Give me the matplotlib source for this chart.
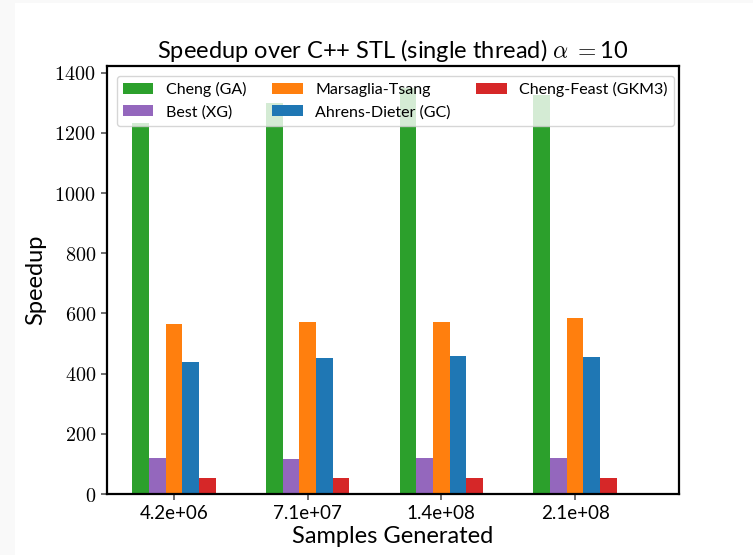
import numpy as np
import matplotlib
matplotlib.use("Agg")
import matplotlib.pyplot as plt
from matplotlib.patches import Rectangle
from matplotlib.ticker import FuncFormatter

# Speedup of each gamma sampler over the C++ STL, single thread, alpha = 10
sample_counts = ["4.2e+06", "7.1e+07", "1.4e+08", "2.1e+08"]
series_names = ["Cheng (GA)", "Best (XG)", "Marsaglia-Tsang",
                "Ahrens-Dieter (GC)", "Cheng-Feast (GKM3)"]
cheng_ga = [1231, 1298, 1348, 1324]
best_xg = [120, 117, 120, 120]
marsaglia_tsang = [566, 572, 572, 586]
ahrens_dieter_gc = [439, 453, 459, 456]
cheng_feast_gkm3 = [53, 53, 53, 53]
series_values = [cheng_ga, best_xg, marsaglia_tsang, ahrens_dieter_gc, cheng_feast_gkm3]
series_colors = ["#2ca02c", "#9467bd", "#ff7f0e", "#1f77b4", "#d62728"]

plt.rcParams["mathtext.fontset"] = "cm"
sans = ["Lato", "DejaVu Sans"]

fig = plt.figure(figsize=(7.53, 5.55), dpi=100)
# faint page margin strips
fig.patches.append(Rectangle((0, 0), 15 / 753, 1, transform=fig.transFigure,
                             facecolor="#f9f9f9", edgecolor="none", zorder=-1))
fig.patches.append(Rectangle((0, 1 - 3 / 555), 1, 3 / 555, transform=fig.transFigure,
                             facecolor="#f9f9f9", edgecolor="none", zorder=-1))

ax = fig.add_axes([107 / 753, 61 / 555, 572 / 753, 428 / 555])

x = np.arange(len(sample_counts))
width = 0.125
for i, (name, vals, col) in enumerate(zip(series_names, series_values, series_colors)):
    ax.bar(x + (i - 2) * width, vals, width, color=col, label=name)

ax.set_xlim(-0.5, 3.777)
ax.set_ylim(0, 1422)
ax.set_xticks(x)
ax.set_xticklabels(sample_counts, fontfamily=sans, fontsize=13.5)
ax.set_yticks(np.arange(0, 1401, 200))
ax.yaxis.set_major_formatter(FuncFormatter(lambda v, p: r"$%d$" % v))
for lbl in ax.get_yticklabels():
    lbl.set_fontsize(14.5)

for s in ax.spines.values():
    s.set_linewidth(1.6)
    s.set_color("black")
ax.tick_params(axis="both", length=4, width=1.2, color="#555555", pad=4)

ax.set_xlabel("Samples Generated", fontfamily=sans, fontsize=17, labelpad=3)
ax.set_ylabel("Speedup", fontfamily=sans, fontsize=17, labelpad=6)
ax.set_title(r"Speedup over C++ STL (single thread) $\alpha\;{=}$10",
             fontfamily=sans, fontsize=17, pad=6)

ax.legend(ncol=3, loc="upper left", bbox_to_anchor=(0.0, 1.0),
          prop={"family": sans, "size": 11.5}, framealpha=0.8,
          handlelength=1.9, columnspacing=1.6, borderaxespad=0.6)

fig.savefig("out.png", dpi=100)
